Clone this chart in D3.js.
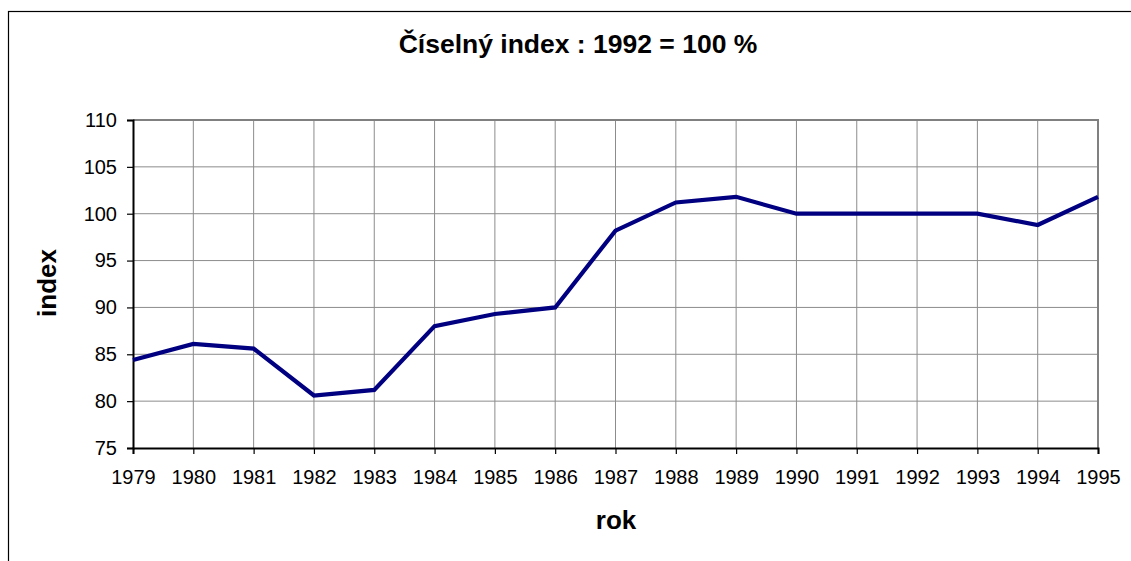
<!DOCTYPE html>
<html>
<head>
<meta charset="utf-8">
<script src="https://cdn.jsdelivr.net/npm/d3@7"></script>
<style>
  html, body { margin: 0; padding: 0; background: #fff; }
  svg { display: block; font-family: "Liberation Sans", Arial, sans-serif; }
</style>
</head>
<body>
<svg id="chart" width="1131" height="561"></svg>
<script>
const years = [1979, 1980, 1981, 1982, 1983, 1984, 1985, 1986, 1987, 1988, 1989, 1990, 1991, 1992, 1993, 1994, 1995];
const indexValues = [84.4, 86.1, 85.6, 80.6, 81.2, 88.0, 89.3, 90.0, 98.2, 101.2, 101.8, 100, 100, 100, 100, 98.8, 101.8];
const yTicks = [75, 80, 85, 90, 95, 100, 105, 110];
const titleText = "Číselný index : 1992 = 100 %";
const xTitle = "rok";
const yTitle = "index";

(function () {
const svg = d3.select("#chart");
const W = 1131, H = 561;
const pLeft = 133, pRight = 1098, pTop = 120, pBottom = 448;

// outer frame
svg.append("rect").attr("x", 8.5).attr("y", 11.5).attr("width", W + 20).attr("height", H + 20)
  .attr("fill", "none").attr("stroke", "#000").attr("stroke-width", 1.2);

const x = d3.scaleLinear().domain([years[0], years[years.length - 1]]).range([pLeft, pRight]);
const y = d3.scaleLinear().domain([75, 110]).range([pBottom, pTop]);

// gridlines
const g = svg.append("g");
g.selectAll("line.hg").data(yTicks.filter(t => t > 75 && t < 110)).enter().append("line")
  .attr("x1", pLeft).attr("x2", pRight).attr("y1", d => y(d)).attr("y2", d => y(d))
  .attr("stroke", "#8c8c8c").attr("stroke-width", 1);
g.selectAll("line.vg").data(years.slice(1, -1)).enter().append("line")
  .attr("x1", d => x(d)).attr("x2", d => x(d)).attr("y1", pTop).attr("y2", pBottom)
  .attr("stroke", "#8c8c8c").attr("stroke-width", 1);

// plot border top/right (gray)
svg.append("line").attr("x1", pLeft).attr("x2", pRight + 1).attr("y1", pTop).attr("y2", pTop)
  .attr("stroke", "#808080").attr("stroke-width", 2);
svg.append("line").attr("x1", pRight).attr("x2", pRight).attr("y1", pTop).attr("y2", pBottom)
  .attr("stroke", "#808080").attr("stroke-width", 2);

// axes
const yAxis = d3.axisLeft(y).tickValues(yTicks).tickSize(6).tickPadding(10).tickFormat(d3.format("d"));
const ya = svg.append("g").attr("transform", `translate(${pLeft},0)`).call(yAxis);
const xAxis = d3.axisBottom(x).tickValues(years).tickSize(6).tickPadding(16).tickFormat(d3.format("d"));
const xa = svg.append("g").attr("transform", `translate(0,${pBottom})`).call(xAxis);
[ya, xa].forEach(a => {
  a.select(".domain").attr("stroke", "#000").attr("stroke-width", 2);
  a.selectAll(".tick line").attr("stroke", "#000").attr("stroke-width", 1.2);
  a.selectAll(".tick text").attr("fill", "#000").attr("font-size", 20)
    .attr("font-family", "'Liberation Sans', Arial, sans-serif");
});

// line
const line = d3.line().x((d, i) => x(years[i])).y(d => y(d));
svg.append("path").datum(indexValues).attr("d", line)
  .attr("fill", "none").attr("stroke", "#000080").attr("stroke-width", 4.2)
  .attr("stroke-linejoin", "miter");

// titles
svg.append("text").attr("x", 578).attr("y", 53).attr("text-anchor", "middle")
  .attr("font-size", 26.5).attr("font-weight", "bold").text(titleText);
svg.append("text").attr("x", 616).attr("y", 529).attr("text-anchor", "middle")
  .attr("font-size", 26).attr("font-weight", "bold").text(xTitle);
svg.append("text").attr("transform", "translate(56,283) rotate(-90)").attr("text-anchor", "middle")
  .attr("font-size", 26).attr("font-weight", "bold").text(yTitle);
})();
</script>
</body>
</html>
